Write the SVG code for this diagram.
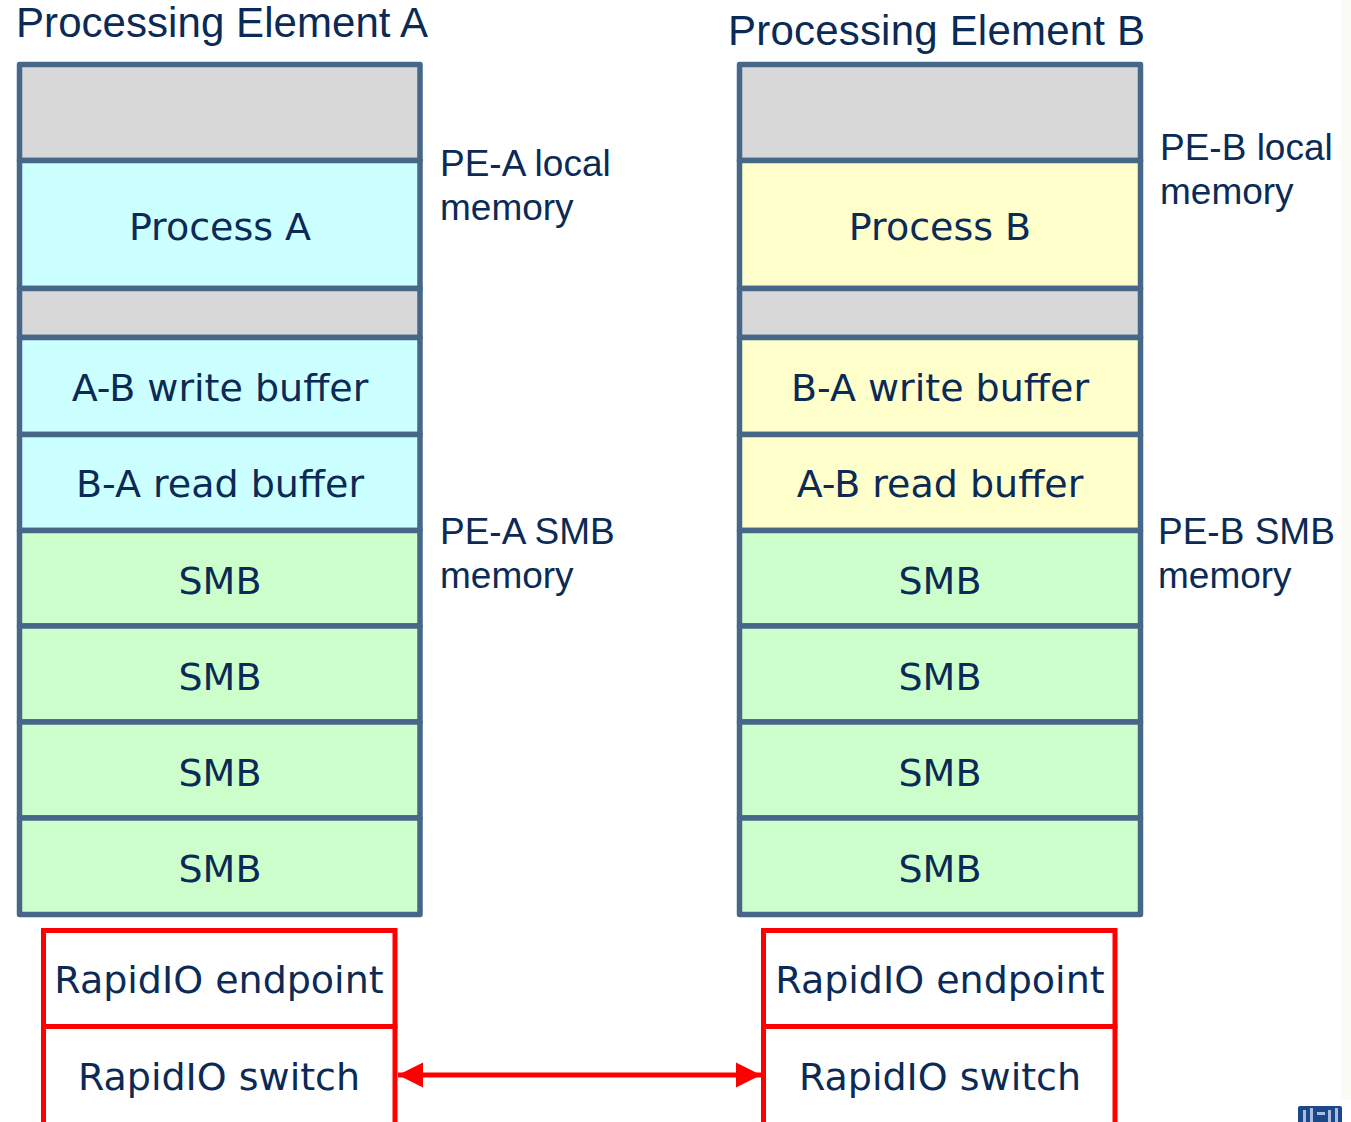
<svg xmlns="http://www.w3.org/2000/svg" width="1351" height="1122" viewBox="0 0 1351 1122">
<style>
.cell{stroke:#476789;stroke-width:5.5;stroke-linejoin:round}
.gray{fill:#d8d8d8}
.cyan{fill:#ccffff}
.yel{fill:#ffffcc}
.grn{fill:#ccffcc}
.rio{fill:#ffffff;stroke:#ff0000;stroke-width:5}
.t{font-family:"DejaVu Sans",Verdana,sans-serif;font-size:38px;fill:#0b2a55;text-anchor:middle}
.title{font-family:"Liberation Sans",Arial,sans-serif;font-size:42px;fill:#0b2a55}
.lbl{font-family:"Liberation Sans",Arial,sans-serif;font-size:37px;fill:#0b2a55}
</style>
<defs>
<marker id="ah" viewBox="0 0 10 10" refX="10" refY="5" markerWidth="5" markerHeight="5.2" orient="auto-start-reverse" markerUnits="strokeWidth">
<path d="M0,0 L10,5 L0,10 z" fill="#ff0000"/>
</marker>
</defs>
<rect x="1341" y="0" width="10" height="1100" fill="#fcfcf6"/>
<text class="title" x="16" y="37" textLength="412">Processing Element A</text>
<text class="title" x="728" y="45" textLength="417">Processing Element B</text>
<g id="labels">
<text class="lbl" x="440" y="176">PE-A local</text>
<text class="lbl" x="440" y="220">memory</text>
<text class="lbl" x="440" y="544">PE-A SMB</text>
<text class="lbl" x="440" y="588">memory</text>
<text class="lbl" x="1160" y="160">PE-B local</text>
<text class="lbl" x="1160" y="204">memory</text>
<text class="lbl" x="1158" y="544">PE-B SMB</text>
<text class="lbl" x="1158" y="588">memory</text>
</g>
<g id="pe-a">
<g id="a-free1"><rect class="cell gray" x="19.5" y="64.5" width="400.5" height="96"/></g>
<g id="a-process"><rect class="cell cyan" x="19.5" y="160.5" width="400.5" height="128"/><text class="t" x="220" y="240">Process A</text></g>
<g id="a-free2"><rect class="cell gray" x="19.5" y="288.5" width="400.5" height="49"/></g>
<g id="a-wbuf"><rect class="cell cyan" x="19.5" y="337.5" width="400.5" height="97"/><text class="t" x="220" y="401">A-B write buffer</text></g>
<g id="a-rbuf"><rect class="cell cyan" x="19.5" y="434.5" width="400.5" height="96"/><text class="t" x="220" y="497">B-A read buffer</text></g>
<g id="a-smb1"><rect class="cell grn" x="19.5" y="530.5" width="400.5" height="95.5"/><text class="t" x="220" y="594">SMB</text></g>
<g id="a-smb2"><rect class="cell grn" x="19.5" y="626" width="400.5" height="96"/><text class="t" x="220" y="690">SMB</text></g>
<g id="a-smb3"><rect class="cell grn" x="19.5" y="722" width="400.5" height="96"/><text class="t" x="220" y="786">SMB</text></g>
<g id="a-smb4"><rect class="cell grn" x="19.5" y="818" width="400.5" height="96.5"/><text class="t" x="220" y="882">SMB</text></g>
</g>
<g id="pe-b">
<g id="b-free1"><rect class="cell gray" x="739.5" y="64.5" width="401" height="96"/></g>
<g id="b-process"><rect class="cell yel" x="739.5" y="160.5" width="401" height="128"/><text class="t" x="940" y="240">Process B</text></g>
<g id="b-free2"><rect class="cell gray" x="739.5" y="288.5" width="401" height="49"/></g>
<g id="b-wbuf"><rect class="cell yel" x="739.5" y="337.5" width="401" height="97"/><text class="t" x="940" y="401">B-A write buffer</text></g>
<g id="b-rbuf"><rect class="cell yel" x="739.5" y="434.5" width="401" height="96"/><text class="t" x="940" y="497">A-B read buffer</text></g>
<g id="b-smb1"><rect class="cell grn" x="739.5" y="530.5" width="401" height="95.5"/><text class="t" x="940" y="594">SMB</text></g>
<g id="b-smb2"><rect class="cell grn" x="739.5" y="626" width="401" height="96"/><text class="t" x="940" y="690">SMB</text></g>
<g id="b-smb3"><rect class="cell grn" x="739.5" y="722" width="401" height="96"/><text class="t" x="940" y="786">SMB</text></g>
<g id="b-smb4"><rect class="cell grn" x="739.5" y="818" width="401" height="96.5"/><text class="t" x="940" y="882">SMB</text></g>
</g>
<g id="a-endpoint"><rect class="rio" x="43.5" y="930.5" width="351.5" height="96"/><text class="t" x="219" y="993">RapidIO endpoint</text></g>
<g id="a-switch"><rect class="rio" x="43.5" y="1026.5" width="351.5" height="110"/><text class="t" x="219" y="1090">RapidIO switch</text></g>
<g id="b-endpoint"><rect class="rio" x="763.5" y="930.5" width="351.5" height="96"/><text class="t" x="940" y="993">RapidIO endpoint</text></g>
<g id="b-switch"><rect class="rio" x="763.5" y="1026.5" width="351.5" height="110"/><text class="t" x="940" y="1090">RapidIO switch</text></g>
<g id="connectors">
<line x1="398" y1="1075" x2="761" y2="1075" stroke="#ff0000" stroke-width="5" marker-start="url(#ah)" marker-end="url(#ah)"/>
</g>
<g id="logo">
<rect x="1298" y="1106" width="44" height="20" rx="2" fill="#1c4788"/>
<rect x="1303" y="1110" width="3" height="14" fill="#aabde0"/>
<rect x="1310" y="1108" width="3" height="16" fill="#aabde0"/>
<rect x="1317" y="1112" width="8" height="3" fill="#aabde0"/>
<rect x="1328" y="1110" width="3" height="14" fill="#aabde0"/>
<rect x="1335" y="1108" width="3" height="16" fill="#aabde0"/>
</g>
</svg>
